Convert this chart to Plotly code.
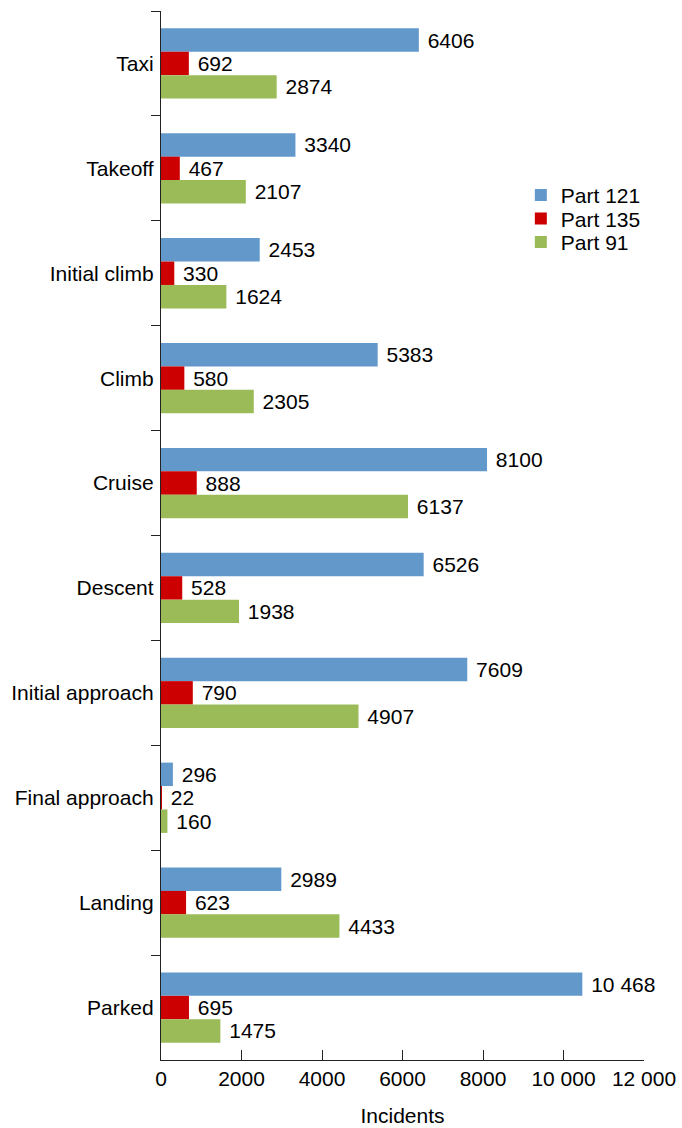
import plotly.graph_objects as go

# Flight phases, listed top to bottom
phases = ["Taxi", "Takeoff", "Initial climb", "Climb", "Cruise", "Descent",
          "Initial approach", "Final approach", "Landing", "Parked"]

# Incident counts by operating rule
part121 = [6406, 3340, 2453, 5383, 8100, 6526, 7609, 296, 2989, 10468]
part135 = [692, 467, 330, 580, 888, 528, 790, 22, 623, 695]
part91 = [2874, 2107, 1624, 2305, 6137, 1938, 4907, 160, 4433, 1475]

x_ticks = [0, 2000, 4000, 6000, 8000, 10000, 12000]
x_tick_labels = ["0", "2000", "4000", "6000", "8000", "10 000", "12 000"]

series = [
    ("Part 121", part121, "#6398CB", "legend"),
    ("Part 135", part135, "#CC0000", "legend2"),
    ("Part 91", part91, "#9BBB59", "legend3"),
]

FONT = "Liberation Sans, Arial, sans-serif"


def fmt(v):
    # space grouping only for five-digit values
    return f"{v:,}".replace(",", " ") if v >= 10000 else str(v)


fig = go.Figure()
for name, vals, color, leg in series:
    fig.add_trace(go.Bar(
        y=phases, x=vals, name=name, orientation="h", legend=leg,
        showlegend=True,
        marker=dict(color=color, line=dict(width=0)),
        text=[" " + fmt(v) for v in vals],
        textposition="outside",
        textfont=dict(family=FONT, size=21, color="#000000"),
        constraintext="none",
        cliponaxis=False,
    ))

# one legend box per series so the rows sit close together
legend_style = dict(
    x=0.745, xanchor="left", yanchor="top",
    font=dict(family=FONT, size=21, color="#000000"),
    bgcolor="rgba(0,0,0,0)",
)

fig.update_layout(
    width=682, height=1128,
    margin=dict(l=161, r=38, t=11, b=68),
    barmode="group", bargap=0.33, bargroupgap=0,
    plot_bgcolor="white", paper_bgcolor="white",
    font=dict(family=FONT, size=21, color="#000000"),
    showlegend=True,
    legend=dict(y=0.8437, **legend_style),
    legend2=dict(y=0.8213, **legend_style),
    legend3=dict(y=0.7989, **legend_style),
    xaxis=dict(
        range=[0, 12000], tickvals=x_ticks, ticktext=x_tick_labels,
        ticks="inside", ticklen=10, tickcolor="#222222", tickwidth=1.3,
        showline=True, linecolor="#222222", linewidth=1.3,
        showgrid=False, zeroline=False,
        tickfont=dict(family=FONT, size=21),
        title=dict(text="Incidents", font=dict(family=FONT, size=21), standoff=18),
        automargin=False,
    ),
    yaxis=dict(
        autorange="reversed", tickson="boundaries",
        ticks="outside", ticklen=9, tickcolor="#222222", tickwidth=1.3,
        showline=True, linecolor="#222222", linewidth=1.3,
        showgrid=False, zeroline=False,
        tickfont=dict(family=FONT, size=21),
        ticklabelstandoff=2,
        automargin=False,
    ),
)

fig.write_html("out.html")
